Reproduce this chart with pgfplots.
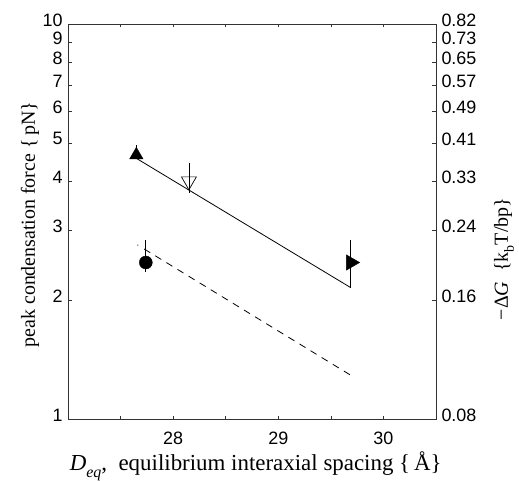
\documentclass[border=0pt]{standalone}
\usepackage{fontspec}
\setmainfont{Liberation Serif}
\newfontfamily\arial{Liberation Sans}
\usepackage{pgfplots}
\pgfplotsset{compat=1.18}

\pgfplotsset{
  boxlook/.style={
    tick align=inside,
    major tick length=3.5bp, minor tick length=3.5bp,
    axis line style={line width=0.7bp, black!80},
    every tick/.style={line width=0.6bp, black!80},
    ticklabel style={font=\arial\fontsize{18}{20}\selectfont},
  },
  errs/.style={error bars/.cd, y dir=both, y explicit, error mark=none,
    error bar style={line width=0.7bp, black}},
}

\begin{document}
\begin{tikzpicture}
\useasboundingbox (-68bp,-62bp) rectangle (451bp,419bp);
\begin{axis}[
    scale only axis, width=368bp, height=395bp,
    xmin=27, xmax=30.5, ymode=log, ymin=1, ymax=10,
    boxlook,
    xtick={28,29,30}, xticklabels={28,29,30},
    minor xtick={27.5,28.5,29.5},
    xtick pos=both,
    xticklabel style={yshift=-9bp},
    ytick={1,2,3,4,5,6,7,8,9,10},
    yticklabels={1,2,3,4,5,6,7,8,9,10},
    minor ytick={},
    ytick pos=both, yticklabel pos=left,
    yticklabel style={yshift=4bp, xshift=-2bp},
    xlabel={\textit{D}\raisebox{-0.32em}{\fontsize{16}{16}\selectfont\textit{eq}}, \ equilibrium interaxial spacing \{\,Å\}},
    xlabel style={font=\fontsize{23}{25}\selectfont, at={(axis description cs:0.51,0)},
      anchor=base, yshift=-51bp},
    ylabel={peak condensation force \{\,pN\}},
    ylabel style={font=\fontsize{20}{22}\selectfont, at={(axis description cs:-0.103,0.492)},
      anchor=center},
  ]
  % solid fit line
  \addplot[black, line width=0.8bp] coordinates {(27.65,4.57) (29.69,2.15)};
  % dashed fit line
  \addplot[black, line width=0.8bp, dash pattern=on 1bp off 7bp on 7bp off 6bp on 7bp off 6bp on 7bp off 6bp on 7bp off 6bp on 7bp off 6bp on 7bp off 6bp on 7bp off 6bp on 7bp off 6bp on 7bp off 6bp on 7bp off 6bp on 7bp off 6bp on 7bp off 6bp on 7bp off 6bp on 7bp off 6bp on 7bp off 6bp on 7bp off 6bp on 7bp off 6bp on 7bp off 6bp on 7bp off 6bp]
    coordinates {(27.66,2.76) (29.69,1.29)};
  % filled triangle up
  \addplot[black, only marks, mark=triangle*, mark size=7.7bp, errs]
    coordinates {(27.65,4.66) += (0,0.28) -= (0,0.10)};
  % open triangle down
  \addplot[black, only marks, mark=triangle, mark size=8.6bp, line width=0.7bp,
    mark options={rotate=180, fill=none}, errs]
    coordinates {(28.15,4.00) += (0,0.45) -= (0,0.27)};
  % filled triangle right
  \addplot[black, only marks, mark=triangle*, mark size=8.8bp,
    mark options={rotate=-90}, errs]
    coordinates {(29.69,2.49) += (0,0.35) -= (0,0.34)};
  % filled circle
  \addplot[black, only marks, mark=*, mark size=6.5bp, errs]
    coordinates {(27.74,2.49) += (0,0.35) -= (0,0.14)};
\end{axis}
\begin{axis}[
    scale only axis, width=368bp, height=395bp,
    xmin=27, xmax=30.5, ymode=log, ymin=1, ymax=10,
    boxlook,
    hide x axis,
    axis y line*=right,
    ytick={1,2,3,4,5,6,7,8,9,10},
    yticklabels={0.08,0.16,0.24,0.33,0.41,0.49,0.57,0.65,0.73,0.82},
    minor ytick={},
    yticklabel style={yshift=4bp, xshift=2bp},
    ylabel={−Δ\textit{G}\ \ \{k\raisebox{-0.3em}{\fontsize{14}{14}\selectfont b}T/bp\}},
    ylabel style={font=\fontsize{20}{22}\selectfont, at={(axis description cs:1.185,0.405)},
      anchor=center},
  ]
\end{axis}
\end{tikzpicture}
\end{document}
